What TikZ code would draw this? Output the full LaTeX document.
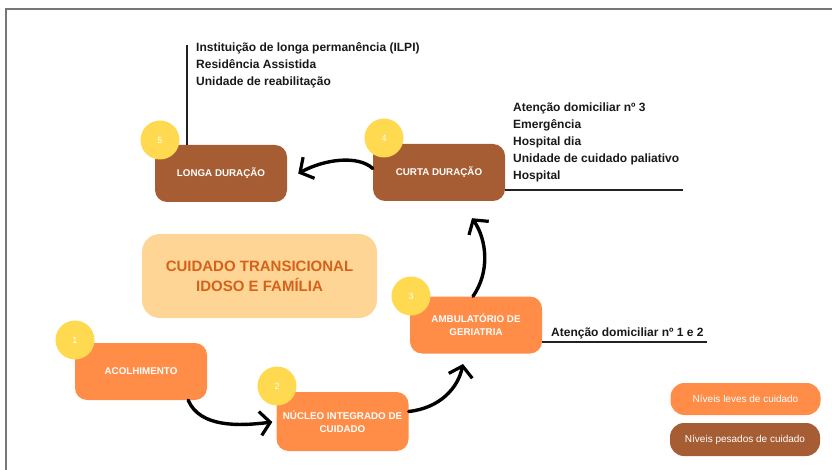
\documentclass[tikz,border=0pt]{standalone}
\usepackage{fontspec}
\setmainfont{Liberation Sans}
\usetikzlibrary{arrows.meta,calc}
\definecolor{lightor}{HTML}{FF8C47}
\definecolor{brownor}{HTML}{A65D33}
\definecolor{yel}{HTML}{FFD94F}
\definecolor{centerfill}{HTML}{FFD596}
\definecolor{centertext}{HTML}{D4621A}
\definecolor{borderg}{HTML}{777777}
\definecolor{linedark}{HTML}{222222}
\begin{document}
\begin{tikzpicture}[x=1pt,y=-1pt,
  stagebox/.style={rounded corners=12pt, minimum width=132pt, minimum height=57pt, inner sep=0pt, text=white, align=center, font=\bfseries\fontsize{9.8}{13}\selectfont},
  lightbox/.style={stagebox, fill=lightor},
  heavybox/.style={stagebox, fill=brownor},
  numcirc/.style={circle, fill=yel, minimum size=39pt, inner sep=0pt, text=white, font=\fontsize{9}{10}\selectfont},
  listtext/.style={anchor=north west, align=left, inner sep=0pt, text=black!90, font=\bfseries\fontsize{12}{17}\selectfont},
  legendbox/.style={rounded corners=14pt, minimum width=150pt, minimum height=33pt, inner sep=0pt, text=white, font=\fontsize{10}{12}\selectfont},
  arr/.style={line width=3.4pt, line cap=round, -{Straight Barb[length=10pt,width=24pt,line width=3.2pt]}},
  leader/.style={line width=1.8pt, draw=linedark}
]
\useasboundingbox (0,0) rectangle (832,470);
% frame
\draw[borderg, line width=1.5pt] (6,470) -- (6,9) -- (832,9);

% center title
\node[rounded corners=18pt, fill=centerfill, minimum width=235pt, minimum height=84pt, align=center, text=centertext, font=\bfseries\fontsize{15}{20}\selectfont] (center) at (259.5,276) {CUIDADO TRANSICIONAL\\IDOSO E FAMÍLIA};

% stage boxes
\node[heavybox] (b5) at (221,173.5) {LONGA DURAÇÃO};
\node[heavybox] (b4) at (439,172.5) {CURTA DURAÇÃO};
\node[lightbox] (b3) at (476,325) {AMBULATÓRIO DE\\GERIATRIA};
\node[lightbox] (b1) at (141,371.5) {ACOLHIMENTO};
\node[lightbox, minimum height=59pt] (b2) at (342.5,421.5) {NÚCLEO INTEGRADO DE\\CUIDADO};

% number circles
\node[numcirc] (c5) at (160,140) {5};
\node[numcirc] (c4) at (384,138) {4};
\node[numcirc] (c3) at (411,296) {3};
\node[numcirc] (c1) at (75,340) {1};
\node[numcirc] (c2) at (277,386) {2};

% lists and leaders
\coordinate (l5top) at (187,45);
\draw[leader] (l5top) -- (l5top |- b5.north);
\node[listtext] (t5) at (196,42) {Instituição de longa permanência (ILPI)\\Residência Assistida\\Unidade de reabilitação};

\coordinate (l4end) at (683,190);
\draw[leader] (b4.east |- l4end) -- (l4end);
\node[listtext] (t4) at (513,103) {Atenção domiciliar nº 3\\Emergência\\Hospital dia\\Unidade de cuidado paliativo\\Hospital};

\coordinate (l3end) at (707,342);
\draw[leader] (b3.east |- l3end) -- (l3end);
\node[listtext, anchor=south west] (t3) at (551,339) {Atenção domiciliar nº 1 e 2};

% arrows
\draw[arr] ([yshift=4pt]b4.west) .. controls (358,155) and (325,159) .. ([xshift=11pt]b5.east);
\draw[arr] ([xshift=-19pt]b1.south east) .. controls (200,428) and (240,426) .. ([xshift=-4pt,yshift=-0.5pt]b2.west);
\draw[arr] ([yshift=10pt]b2.east) .. controls (440,408) and (458,388) .. (463,364);
\draw[arr] ([xshift=-3pt]b3.north) .. controls (490,272) and (487,240) .. ([xshift=33pt,yshift=-17pt]b4.south);

% legend
\node[legendbox, fill=lightor, minimum height=32pt] (lg1) at (745.5,399) {Níveis leves de cuidado};
\node[legendbox, fill=brownor] (lg2) at (745,439.5) {Níveis pesados de cuidado};
\end{tikzpicture}
\end{document}
